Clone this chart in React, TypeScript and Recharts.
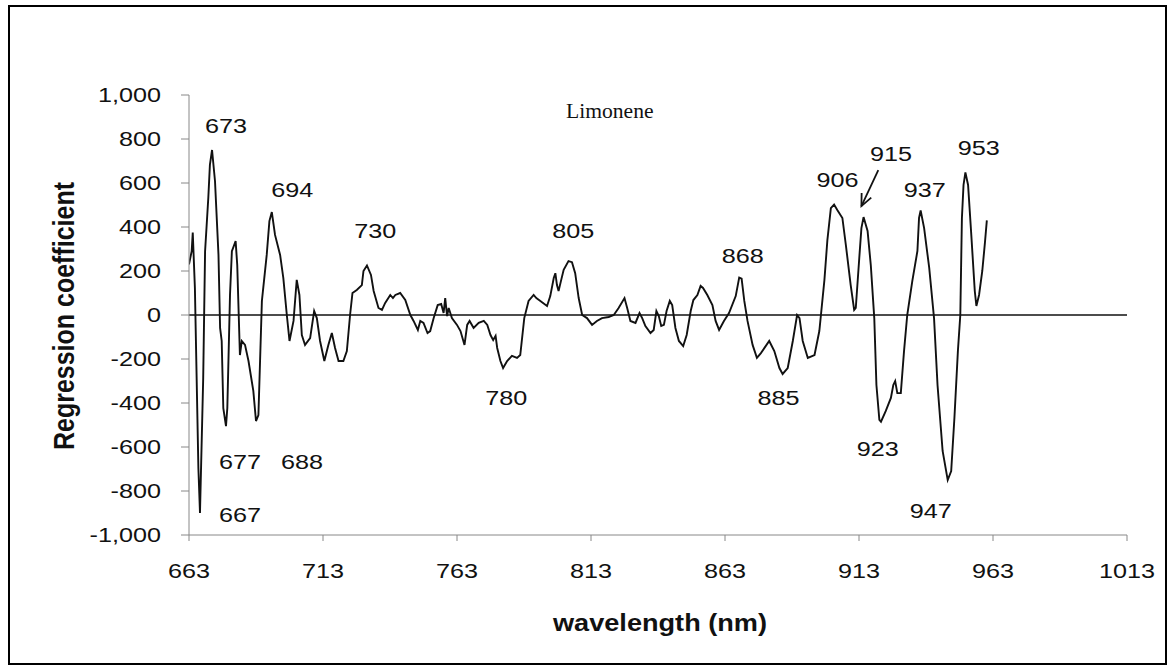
/**
 * LimoneneRegressionChart
 * Regression coefficient vs wavelength, with peak annotations.
 */
import {
  ComposedChart,
  Line,
  Scatter,
  XAxis,
  YAxis,
  ReferenceLine,
} from "recharts";

// wavelength (nm)
const wavelengths = [
  663, 664, 664.4, 665.2, 666.5, 667.1, 668.3, 669, 670.2, 670.8, 671.6, 672.7,
  674, 674.6, 675.2, 675.8, 676.8, 677.3, 678.3, 679, 680.4, 681, 682, 682.7,
  683.9, 685.2, 687, 688, 688.9, 690.2, 692, 693, 693.9, 695.1, 697, 698.2,
  699.5, 700.5, 702, 703.2, 704.2, 705.1, 706.3, 708.2, 709.7, 710.7, 711.9,
  713.5, 715, 716.3, 717.5, 718.8, 720.6, 721.9, 723.1, 724, 725.6, 727.5,
  728.1, 729.4, 730.9, 731.9, 733.7, 735, 736.2, 738.1, 739.1, 740, 741.8,
  743.7, 745.6, 746.8, 748.4, 749.3, 750.5, 752, 753, 754.3, 755.8, 757.1, 758,
  758.6, 759.3, 759.9, 761.1, 763, 764.3, 765.8, 766.8, 767.7, 769.2, 771.1,
  773, 774.3, 775.5, 776.5, 777.4, 778, 779.2, 780.2, 781.7, 783.5, 785.4,
  786.6, 788.1, 789.7, 791.6, 792.6, 794.1, 796.6, 797.8, 799.1, 799.7, 800.3,
  800.9, 801.8, 802.8, 804.6, 805.9, 807.1, 808.4, 809.7, 811.5, 813.4, 815.2,
  817.1, 819.6, 821.5, 823.3, 825.5, 826.5, 827.7, 829.6, 831.1, 832.1, 833.3,
  835.2, 836.4, 837.4, 838.3, 839.2, 840.2, 841.2, 842.4, 843.3, 844.5, 845.8,
  847.4, 848.7, 850.2, 851.2, 852.7, 853.9, 854.8, 856.4, 858.3, 859.5, 860.8,
  862.6, 864.5, 867, 868.3, 869.2, 870.2, 871.4, 873.3, 874.9, 876.4, 879.5,
  881.4, 883.3, 884.5, 886.4, 888.3, 889.9, 890.8, 892, 893.9, 896.4, 898.2,
  900.1, 901.2, 902.5, 903.7, 904.9, 906.8, 908.1, 909.9, 911.2, 911.8, 913.1,
  913.9, 914.7, 916.2, 917.4, 918.7, 919.5, 920.6, 921.2, 923, 924.9, 925.8,
  926.5, 927.3, 928.6, 929.8, 931, 932.9, 934.8, 935.4, 936, 937.3, 939.2, 941,
  942.3, 944.2, 946.1, 947.4, 948.6, 949.9, 950.8, 951.4, 952, 952.7, 953.7,
  954.9, 956.2, 956.8, 957.8, 959, 960, 960.7,
];

// regression coefficient
const coefficients = [
  230, 290, 375, 123, -695, -900, -286, 290, 532, 682, 750, 609,
  274, -59, -118, -423, -505, -423, 91, 290, 336, 227, -182, -118,
  -136, -209, -345, -482, -455, 64, 273, 427, 468, 364, 273, 168,
  0, -118, -27, 160, 91, -91, -136, -105, 18, -14, -118,
  -209, -136, -82, -150, -209, -209, -164, 0, 100, 114, 136,
  200, 225, 182, 109, 32, 23, 55, 91, 77, 91, 100,
  68, 0, -27, -68, -27, -36, -82, -73, -14, 45, 50, 9,
  77, -5, 32, -14, -45, -73, -136, -45, -27, -59, -36,
  -27, -45, -91, -114, -95, -150, -209, -241, -209, -186, -195,
  -182, -14, 64, 91, 77, 64, 41, 86, 168, 190, 136,
  109, 155, 205, 245, 240, 190, 77, 0, -14, -45, -27,
  -14, -9, 0, 32, 77, 32, -27, -36, 9, -14, -50,
  -82, -68, 18, -5, -50, -45, 18, 64, 45, -59, -118,
  -141, -91, 18, 68, 91, 132, 123, 91, 45, -27, -68,
  -27, 9, 86, 170, 165, 64, -27, -136, -195, -173, -118,
  -164, -241, -268, -241, -118, 0, -14, -118, -195, -182, -73,
  160, 340, 486, 502, 477, 441, 318, 136, 23, 32, 259,
  395, 445, 382, 227, -14, -318, -477, -485, -436, -377, -318,
  -300, -355, -355, -164, 0, 155, 291, 441, 475, 395, 214, -14,
  -318, -618, -750, -709, -468, -164, 0, 441, 591, 648, 591,
  364, 109, 41, 91, 200, 330, 430,
];

// peak annotations (text, wavelength, coefficient at label centre)
const peakTexts = ["673", "694", "730", "805", "868", "906", "915", "937", "953", "677", "688", "667", "780", "885", "923", "947"];
const peakTextX = [676.8, 701.5, 732.5, 806.4, 869.6, 905, 924.9, 937.5, 957.7, 682, 705.2, 682, 781.4, 883, 920, 939.8];
const peakTextY = [860, 568, 386, 386, 268, 614, 736, 568, 759, -668, -668, -909, -377, -377, -609, -891];

const xTicks = [663, 713, 763, 813, 863, 913, 963, 1013];
const yTicks = [-1000, -800, -600, -400, -200, 0, 200, 400, 600, 800, 1000];

const chartData = wavelengths.map((x, i) => ({ x, y: coefficients[i] }));
const labelData = peakTexts.map((text, i) => ({ x: peakTextX[i], y: peakTextY[i], text }));
const titleData = [{ x: 820, y: 927, text: "Limonene" }];

const FONT = "Arial, 'Liberation Sans', Helvetica, sans-serif";
const STRETCH = 1.2;

function XTick(props: any) {
  const { x, y, payload } = props;
  return (
    <g transform={`translate(${x},${y}) scale(${STRETCH},1)`}>
      <text x={0} y={0} dy="0.71em" textAnchor="middle" fontSize={21} fontFamily={FONT} fill="#111">
        {payload.value}
      </text>
    </g>
  );
}

function YTick(props: any) {
  const { x, y, payload } = props;
  return (
    <g transform={`translate(${x},${y}) scale(${STRETCH},1)`}>
      <text x={0} y={0} dy="0.355em" textAnchor="end" fontSize={21} fontFamily={FONT} fill="#111">
        {Number(payload.value).toLocaleString("en-US")}
      </text>
    </g>
  );
}

function PeakLabel(props: any) {
  const { cx, cy, payload } = props;
  return (
    <g transform={`translate(${cx},${cy}) scale(${STRETCH},1)`}>
      <text x={0} y={0} dy="0.355em" textAnchor="middle" fontSize={21} fontFamily={FONT} fill="#111">
        {payload.text}
      </text>
    </g>
  );
}

function TitleLabel(props: any) {
  const { cx, cy, payload } = props;
  return (
    <g transform={`translate(${cx},${cy}) scale(1.08,1)`}>
      <text x={0} y={0} dy="0.355em" textAnchor="middle" fontSize={20} fontFamily="'Liberation Serif', 'Times New Roman', serif" fill="#111">
        {payload.text}
      </text>
    </g>
  );
}

function Arrow(props: any) {
  const { x1, y1, x2, y2 } = props;
  const ang = Math.atan2(y2 - y1, x2 - x1);
  const len = 13;
  const spread = 0.42;
  const ax = x2 - len * Math.cos(ang - spread);
  const ay = y2 - len * Math.sin(ang - spread);
  const bx = x2 - len * Math.cos(ang + spread);
  const by = y2 - len * Math.sin(ang + spread);
  return (
    <g stroke="#111" strokeWidth={1.8} fill="none">
      <line x1={x1} y1={y1} x2={x2} y2={y2} />
      <polyline points={`${ax},${ay} ${x2},${y2} ${bx},${by}`} />
    </g>
  );
}

export default function App() {
  return (
    <div style={{ position: "absolute", left: 0, top: 0, width: 1174, height: 671, background: "#fff" }}>
      <div
        style={{
          position: "absolute",
          left: 8,
          top: 5,
          width: 1159,
          height: 660,
          border: "2px solid #000",
          boxSizing: "border-box",
        }}
      />
      <ComposedChart
        width={1174}
        height={671}
        margin={{ top: 95, right: 47, bottom: 96, left: 109 }}
        style={{ position: "absolute", left: 0, top: 0 }}
      >
        <XAxis
          dataKey="x"
          type="number"
          domain={[663, 1013]}
          ticks={xTicks}
          height={40}
          tickSize={6}
          tickMargin={22}
          tick={XTick}
          stroke="#888"
          allowDataOverflow
        />
        <YAxis
          dataKey="y"
          type="number"
          domain={[-1000, 1000]}
          ticks={yTicks}
          width={80}
          tickSize={8}
          tickMargin={20}
          tick={YTick}
          stroke="#888"
          allowDataOverflow
        />
        <ReferenceLine y={0} stroke="#111" strokeWidth={1.3} />
        <Line
          data={chartData}
          dataKey="y"
          type="linear"
          stroke="#111"
          strokeWidth={1.9}
          dot={false}
          isAnimationActive={false}
        />
        <Scatter data={labelData} dataKey="y" shape={PeakLabel} isAnimationActive={false} />
        <Scatter data={titleData} dataKey="y" shape={TitleLabel} isAnimationActive={false} />
        <ReferenceLine
          segment={[
            { x: 920.2, y: 659 },
            { x: 913.9, y: 495 },
          ]}
          shape={Arrow}
        />
      </ComposedChart>
      <svg width={1174} height={671} style={{ position: "absolute", left: 0, top: 0, pointerEvents: "none" }}>
        <g transform="translate(64,316) rotate(-90) scale(1,1.15)">
          <text x={0} y={0} dy="0.355em" textAnchor="middle" fontSize={25} fontWeight="bold" fontFamily={FONT} fill="#111">
            Regression coefficient
          </text>
        </g>
        <g transform="translate(660,623) scale(1.18,1)">
          <text x={0} y={0} dy="0.355em" textAnchor="middle" fontSize={23} fontWeight="bold" fontFamily={FONT} fill="#111">
            wavelength (nm)
          </text>
        </g>
      </svg>
    </div>
  );
}
